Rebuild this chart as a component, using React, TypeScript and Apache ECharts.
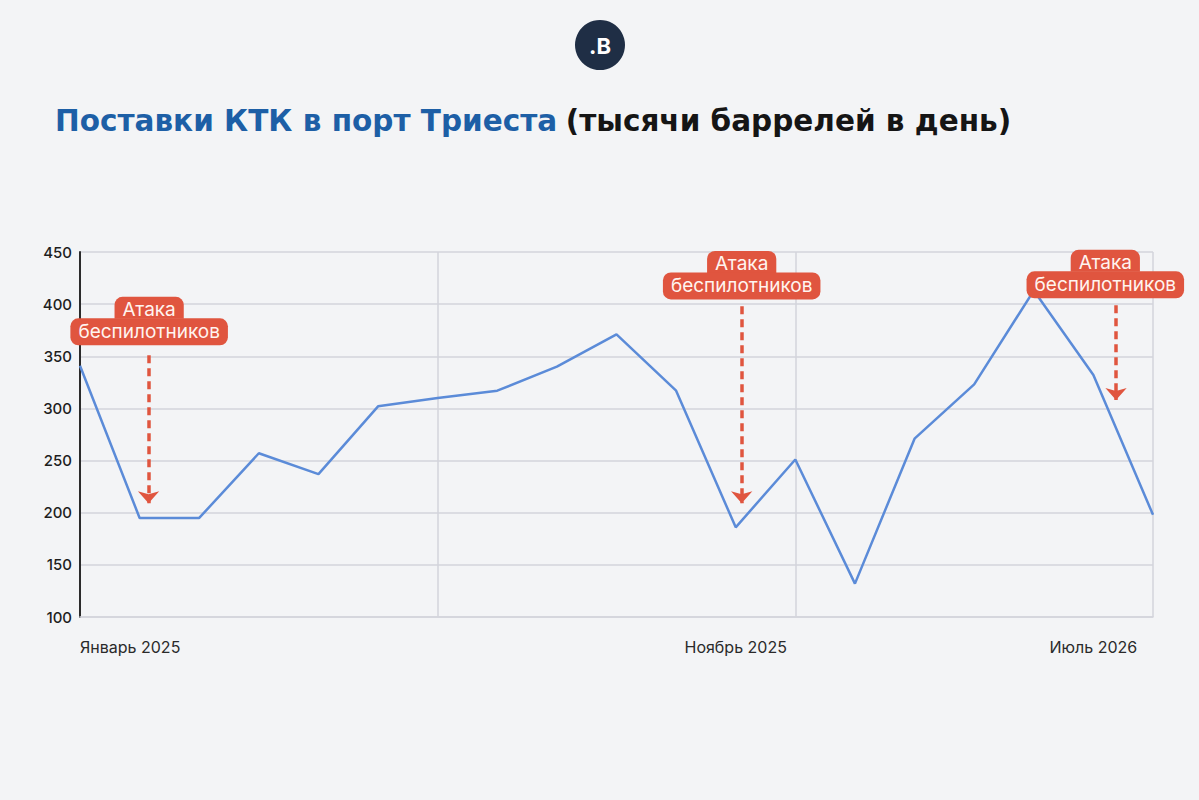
import React, { useEffect, useRef } from "react";
import * as echarts from "echarts";

// Data
const pointIndex = [0, 1, 2, 3, 4, 5, 6, 7, 8, 9, 10, 11, 12, 13, 14, 15, 16, 17, 18];
const values = [341, 195, 195, 257, 237, 302, 310, 317, 340, 371, 317, 186, 251, 132, 271, 323, 413, 332, 198];
const tickIndex = [0, 11, 17];
const tickLabels = ["Январь 2025", "Ноябрь 2025", "Июль 2026"];
const yTicks = [100, 150, 200, 250, 300, 350, 400, 450];

const annotText = ["Атака", "беспилотников"];
const annotBoxX = [1.16, 11.1, 17.2];
const annotBoxY = [385, 429, 430];
const annotArrowX = [1.15, 11.1, 17.38];
const annotArrowFrom = [351, 398, 399];
const annotArrowTo = [209, 209, 308];

const titleBlue = "Поставки КТК в порт Триеста";
const titleBlack = "(тысячи баррелей в день)";

export default function App() {
  const ref = useRef<HTMLDivElement>(null);
  useEffect(() => {
    if (!ref.current) return;
    const chart = echarts.init(ref.current, undefined, { renderer: "svg" });
    const red = "#e0553f";
    const option: any = {
      animation: false,
      backgroundColor: "#f3f4f6",
      textStyle: { fontFamily: "Inter" },
      title: {
        left: 50,
        top: 101,
        text: `{a|${titleBlue}}  {b|${titleBlack}}`,
        textStyle: {
          rich: {
            a: { fontFamily: "DejaVu Sans", fontWeight: 700, fontSize: 29.5, color: "#1d5fa6" },
            b: { fontFamily: "DejaVu Sans", fontWeight: 700, fontSize: 29.5, color: "#151515" },
          },
        },
      },
      graphic: [
        { type: "circle", shape: { cx: 600, cy: 45, r: 25 }, style: { fill: "#1f2e45" } },
        {
          type: "text",
          x: 600,
          y: 46,
          style: {
            text: ".B",
            fill: "#ffffff",
            font: "700 22px Inter",
            align: "center",
            verticalAlign: "middle",
          },
        },
      ],
      grid: { left: 80, right: 46, top: 252, bottom: 183 },
      xAxis: [
        {
          type: "value",
          min: 0,
          max: 18,
          interval: 1,
          axisLine: { show: true, lineStyle: { color: "#d3d4db", width: 1.5 } },
          axisTick: { show: false },
          splitLine: { show: false },
          axisLabel: {
            margin: 22,
            fontSize: 16,
            color: "#2a2a2a",
            fontFamily: "Inter",
            alignMinLabel: "left",
            formatter: (v: number) => {
              const i = tickIndex.indexOf(Math.round(v));
              return i >= 0 && Math.abs(v - Math.round(v)) < 1e-6 ? tickLabels[i] : "";
            },
          },
        },
        {
          type: "value",
          min: 0,
          max: 18,
          interval: 6,
          position: "bottom",
          axisLine: { show: false },
          axisTick: { show: false },
          axisLabel: { show: false },
          splitLine: { show: true, lineStyle: { color: "#d3d4db", width: 1.5 } },
        },
      ],
      yAxis: {
        type: "value",
        min: yTicks[0],
        max: yTicks[yTicks.length - 1],
        interval: 50,
        axisLine: { show: true, lineStyle: { color: "#2b2b2b", width: 2 } },
        axisTick: { show: false },
        axisLabel: { fontSize: 15, color: "#1e1e1e", fontFamily: "Inter", fontWeight: 500, margin: 8 },
        splitLine: { show: true, lineStyle: { color: "#d3d4db", width: 1.5 } },
      },
      series: [
        {
          type: "line",
          xAxisIndex: 0,
          data: pointIndex.map((i, k) => [i, values[k]]),
          symbol: "none",
          lineStyle: { color: "#5b8bd8", width: 2.5 },
          z: 3,
          markLine: {
            silent: true,
            symbol: ["none", "arrow"],
            symbolSize: [16, 12],
            lineStyle: { color: red, width: 3.5, type: [8, 5], opacity: 1 },
            label: { show: false },
            data: annotArrowX.map((x, k) => [
              { coord: [x, annotArrowFrom[k]] },
              { coord: [x, annotArrowTo[k]] },
            ]),
          },
          markPoint: {
            silent: true,
            symbol: "rect",
            symbolSize: 0,
            data: annotBoxX.map((x, k) => ({
              coord: [x, annotBoxY[k]],
              label: {
                show: true,
                position: "inside",
                formatter: `{a|${annotText[0]}}\n{b|${annotText[1]}}`,
                rich: {
                  a: {
                    color: "#fff4ef",
                    fontSize: 19,
                    fontFamily: "Inter",
                    backgroundColor: red,
                    borderRadius: [8, 8, 0, 0],
                    padding: [3, 8, 0, 8],
                    lineHeight: 24,
                    align: "center",
                  },
                  b: {
                    color: "#fff4ef",
                    fontSize: 19,
                    fontFamily: "Inter",
                    backgroundColor: red,
                    borderRadius: 8,
                    padding: [4, 8, 4, 8],
                    lineHeight: 24,
                    align: "center",
                  },
                },
              },
            })),
          },
        },
      ],
    };
    chart.setOption(option);
    return () => chart.dispose();
  }, []);
  return (
    <div
      ref={ref}
      style={{ position: "absolute", left: 0, top: 0, width: 1199, height: 800 }}
    />
  );
}
